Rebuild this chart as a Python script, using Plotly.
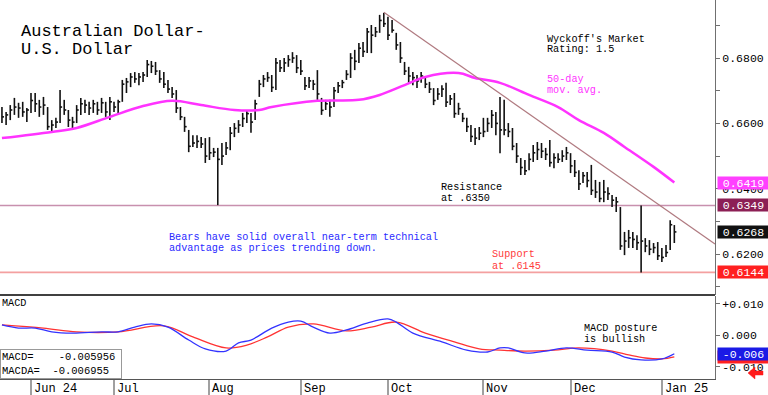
import pandas as pd
import plotly.graph_objects as go

# ---------------- data ----------------
dates = pd.bdate_range("2024-05-23", "2025-01-06")

high = [
    0.6650, 0.6635, 0.6656, 0.6678, 0.6663, 0.6666, 0.6647, 0.6693, 0.6693, 0.6672,
    0.6681, 0.6650, 0.6610, 0.6617, 0.6702, 0.6672, 0.6641, 0.6620, 0.6656, 0.6678,
    0.6672, 0.6666, 0.6672, 0.6666, 0.6678, 0.6666, 0.6681, 0.6666, 0.6672, 0.6733,
    0.6739, 0.6754, 0.6757, 0.6754, 0.6757, 0.6794, 0.6791, 0.6788, 0.6763, 0.6757,
    0.6733, 0.6711, 0.6702, 0.6650, 0.6620, 0.6580, 0.6564, 0.6564, 0.6558, 0.6555,
    0.6558, 0.6525, 0.6525, 0.6540, 0.6543, 0.6589, 0.6601, 0.6610, 0.6632, 0.6641,
    0.6632, 0.6672, 0.6733, 0.6748, 0.6757, 0.6748, 0.6800, 0.6794, 0.6800, 0.6809,
    0.6818, 0.6809, 0.6794, 0.6742, 0.6742, 0.6733, 0.6763, 0.6678, 0.6672, 0.6672,
    0.6711, 0.6727, 0.6733, 0.6763, 0.6815, 0.6825, 0.6846, 0.6849, 0.6892, 0.6901,
    0.6895, 0.6932, 0.6938, 0.6926, 0.6916, 0.6877, 0.6849, 0.6788, 0.6773, 0.6757,
    0.6748, 0.6757, 0.6742, 0.6727, 0.6708, 0.6708, 0.6717, 0.6724, 0.6687, 0.6693,
    0.6663, 0.6632, 0.6617, 0.6595, 0.6586, 0.6589, 0.6617, 0.6617, 0.6641, 0.6635,
    0.6681, 0.6672, 0.6601, 0.6586, 0.6540, 0.6494, 0.6488, 0.6509, 0.6534, 0.6543,
    0.6540, 0.6525, 0.6549, 0.6509, 0.6509, 0.6518, 0.6528, 0.6509, 0.6488, 0.6457,
    0.6451, 0.6451, 0.6473, 0.6427, 0.6421, 0.6427, 0.6405, 0.6381, 0.6375, 0.6344,
    0.6268, 0.6274, 0.6268, 0.6258, 0.6349, 0.6249, 0.6243, 0.6234, 0.6237, 0.6219,
    0.6228, 0.6304, 0.6289,
]
low = [
    0.6601, 0.6595, 0.6610, 0.6626, 0.6617, 0.6620, 0.6604, 0.6632, 0.6635, 0.6620,
    0.6626, 0.6580, 0.6574, 0.6586, 0.6601, 0.6626, 0.6589, 0.6580, 0.6601, 0.6626,
    0.6632, 0.6626, 0.6632, 0.6626, 0.6632, 0.6620, 0.6610, 0.6635, 0.6632, 0.6666,
    0.6693, 0.6711, 0.6724, 0.6717, 0.6727, 0.6742, 0.6754, 0.6748, 0.6724, 0.6708,
    0.6693, 0.6678, 0.6632, 0.6610, 0.6574, 0.6512, 0.6528, 0.6525, 0.6525, 0.6479,
    0.6488, 0.6497, 0.6350, 0.6473, 0.6503, 0.6518, 0.6558, 0.6571, 0.6589, 0.6601,
    0.6571, 0.6610, 0.6681, 0.6711, 0.6727, 0.6696, 0.6702, 0.6757, 0.6757, 0.6773,
    0.6785, 0.6754, 0.6748, 0.6702, 0.6708, 0.6702, 0.6672, 0.6626, 0.6641, 0.6620,
    0.6650, 0.6693, 0.6708, 0.6733, 0.6739, 0.6763, 0.6785, 0.6803, 0.6815, 0.6815,
    0.6864, 0.6877, 0.6895, 0.6855, 0.6877, 0.6825, 0.6785, 0.6748, 0.6724, 0.6717,
    0.6708, 0.6724, 0.6708, 0.6693, 0.6656, 0.6672, 0.6681, 0.6650, 0.6656, 0.6617,
    0.6626, 0.6604, 0.6574, 0.6543, 0.6534, 0.6549, 0.6558, 0.6574, 0.6586, 0.6564,
    0.6509, 0.6564, 0.6558, 0.6518, 0.6479, 0.6442, 0.6442, 0.6457, 0.6482, 0.6488,
    0.6494, 0.6488, 0.6467, 0.6463, 0.6479, 0.6482, 0.6488, 0.6448, 0.6436, 0.6396,
    0.6418, 0.6405, 0.6381, 0.6372, 0.6359, 0.6359, 0.6366, 0.6344, 0.6329, 0.6213,
    0.6197, 0.6219, 0.6219, 0.6213, 0.6144, 0.6206, 0.6197, 0.6203, 0.6182, 0.6176,
    0.6191, 0.6213, 0.6234,
]
close = [
    0.6620, 0.6626, 0.6641, 0.6650, 0.6647, 0.6635, 0.6641, 0.6670, 0.6660, 0.6650,
    0.6656, 0.6590, 0.6595, 0.6604, 0.6650, 0.6641, 0.6610, 0.6604, 0.6641, 0.6660,
    0.6656, 0.6647, 0.6660, 0.6641, 0.6663, 0.6635, 0.6666, 0.6650, 0.6666, 0.6720,
    0.6727, 0.6742, 0.6736, 0.6742, 0.6748, 0.6780, 0.6775, 0.6760, 0.6736, 0.6720,
    0.6705, 0.6690, 0.6647, 0.6620, 0.6590, 0.6530, 0.6540, 0.6545, 0.6537, 0.6500,
    0.6510, 0.6512, 0.6490, 0.6500, 0.6525, 0.6570, 0.6585, 0.6595, 0.6615, 0.6630,
    0.6604, 0.6660, 0.6720, 0.6736, 0.6740, 0.6710, 0.6785, 0.6770, 0.6785, 0.6795,
    0.6800, 0.6770, 0.6760, 0.6715, 0.6730, 0.6720, 0.6690, 0.6640, 0.6660, 0.6650,
    0.6700, 0.6715, 0.6725, 0.6750, 0.6800, 0.6790, 0.6830, 0.6820, 0.6880, 0.6870,
    0.6880, 0.6915, 0.6905, 0.6870, 0.6885, 0.6840, 0.6800, 0.6760, 0.6745, 0.6740,
    0.6730, 0.6745, 0.6720, 0.6705, 0.6670, 0.6690, 0.6705, 0.6665, 0.6675, 0.6630,
    0.6645, 0.6615, 0.6590, 0.6560, 0.6555, 0.6570, 0.6575, 0.6600, 0.6625, 0.6600,
    0.6580, 0.6580, 0.6575, 0.6530, 0.6500, 0.6465, 0.6455, 0.6490, 0.6510, 0.6520,
    0.6515, 0.6505, 0.6480, 0.6495, 0.6490, 0.6500, 0.6510, 0.6470, 0.6450, 0.6415,
    0.6440, 0.6425, 0.6395, 0.6390, 0.6370, 0.6390, 0.6385, 0.6365, 0.6360, 0.6225,
    0.6240, 0.6250, 0.6245, 0.6235, 0.6240, 0.6225, 0.6215, 0.6220, 0.6195, 0.6190,
    0.6205, 0.6290, 0.6268,
]

ma_day = [0, 12, 18, 26, 34, 41, 48, 56, 62, 65, 76, 86, 91, 97, 102, 110, 114, 120,
          127, 134, 139, 145, 150, 157, 162]
ma_val = [0.6555, 0.6574, 0.6586, 0.6620, 0.6653, 0.6669, 0.6656, 0.6641, 0.6641, 0.6650,
          0.6669, 0.6672, 0.6687, 0.6717, 0.6742, 0.6754, 0.6739, 0.6724, 0.6687, 0.6650,
          0.6610, 0.6571, 0.6528, 0.6467, 0.6419]

macd_day = [0, 4, 8, 12, 17, 24, 28, 32, 36, 40, 45, 49, 54, 57, 60, 65, 69, 72, 75, 79,
            83, 88, 93, 95, 99, 106, 112, 117, 120, 122, 126, 131, 136, 141, 147, 150, 154,
            159, 162]
macd_val = [0.0032, 0.0022, 0.0022, 0.0010, 0.0006, 0.0010, 0.0010, 0.0025, 0.0035, 0.0025,
            -0.0016, -0.0044, -0.0051, -0.0025, -0.0016, 0.0022, 0.0041, 0.0044, 0.0025, 0.0006,
            0.0016, 0.0038, 0.0051, 0.0041, 0.0006, -0.0022, -0.0048, -0.0054, -0.0041, -0.0041,
            -0.0057, -0.0051, -0.0041, -0.0048, -0.0054, -0.0070, -0.0079, -0.0076, -0.005956]
sig_day = [0, 10, 18, 28, 39, 46, 54, 59, 64, 69, 75, 83, 89, 95, 102, 109, 115, 120, 126,
           133, 139, 147, 151, 155, 159, 162]
sig_val = [0.0032, 0.0022, 0.0010, 0.0010, 0.0029, -0.0006, -0.0041, -0.0032, -0.0006, 0.0025,
           0.0035, 0.0013, 0.0025, 0.0041, 0.0006, -0.0022, -0.0044, -0.0048, -0.0051, -0.0048,
           -0.0041, -0.0051, -0.0063, -0.0073, -0.0076, -0.006955]

trend_day = [92, 171.8]
trend_val = [0.6940, 0.6231]
resistance = 0.6349
support = 0.6144
ma_last = 0.6419
last_close = 0.6268

month_labels = ["Jun 24", "Jul", "Aug", "Sep", "Oct", "Nov", "Dec", "Jan 25"]
price_ticks = [0.61, 0.62, 0.63, 0.64, 0.65, 0.66, 0.67, 0.68, 0.69]
price_ticktext = ["", "0.6200", "", "0.6400", "", "0.6600", "", "0.6800", ""]
macd_ticks = [-0.010, 0.0, 0.010]
macd_ticktext = ["-0.010", "0.000", "+0.010"]

# ---------------- figure ----------------
n = len(dates)
xi = list(range(n))
s = pd.Series(xi, index=dates)
firsts = s.groupby([dates.year, dates.month]).first().tolist()
month_ticks = firsts[1:]

W, H = 768, 395
PW, PH = 715, 379
MONO = "Liberation Mono"


def P(xp, yp):
    return xp / PW, 1 - yp / PH


bx, by, cx, cy = [], [], [], []
for i, (h, l, c) in enumerate(zip(high, low, close)):
    bx += [i, i, None]
    by += [l, h, None]
    cx += [i, i + 0.5, None]
    cy += [c, c, None]

fig = go.Figure()
fig.add_trace(go.Scatter(x=bx, y=by, mode="lines", line=dict(color="#111111", width=1.6),
                         yaxis="y", hoverinfo="skip", showlegend=False))
fig.add_trace(go.Scatter(x=cx, y=cy, mode="lines", line=dict(color="#111111", width=1.6),
                         yaxis="y", hoverinfo="skip", showlegend=False))
fig.add_trace(go.Scatter(x=ma_day, y=ma_val, mode="lines", line=dict(color="#ff33ff", width=2.5, shape="spline"),
                         yaxis="y", showlegend=False))
fig.add_trace(go.Scatter(x=trend_day, y=trend_val, mode="lines", line=dict(color="#b07a80", width=1.2),
                         yaxis="y", showlegend=False))
fig.add_trace(go.Scatter(x=sig_day, y=sig_val, mode="lines", line=dict(color="#ff3333", width=1.3, shape="spline"),
                         yaxis="y2", showlegend=False))
fig.add_trace(go.Scatter(x=macd_day, y=macd_val, mode="lines", line=dict(color="#3333ff", width=1.3, shape="spline"),
                         yaxis="y2", showlegend=False))

# red left arrow (bottom-right corner) as a path in paper coordinates
arrow_px = [(748, 373), (755, 367), (755, 371), (763, 371), (763, 375), (755, 375), (755, 379)]
arrow_path = "M " + " L ".join("%.5f,%.5f" % P(a, b) for a, b in arrow_px) + " Z"

shapes = [
    dict(type="line", xref="paper", x0=0, x1=1, yref="y", y0=resistance, y1=resistance,
         line=dict(color="#c890ae", width=1.5), layer="below"),
    dict(type="line", xref="paper", x0=0, x1=1, yref="y", y0=support, y1=support,
         line=dict(color="#f4a0a0", width=1.8), layer="below"),
    dict(type="line", xref="paper", x0=0, x1=1, yref="paper", y0=1 - 295 / PH, y1=1 - 295 / PH,
         line=dict(color="#000000", width=1.5)),
    dict(type="path", xref="paper", yref="paper", path=arrow_path, fillcolor="#ff1a1a",
         line=dict(color="#ff1a1a", width=0.5)),
]

ann = []


def text(xp, yp, t, size=10.2, color="#000000", family=MONO):
    x, y = P(xp, yp)
    ann.append(dict(xref="paper", yref="paper", x=x, y=y, text=t, showarrow=False,
                    xanchor="left", yanchor="middle", font=dict(family=family, size=size, color=color)))


text(19, 31, "Australian Dollar-", size=17)
text(19, 50, "U.S. Dollar", size=17)
text(545, 39, "Wyckoff's Market")
text(545, 50, "Rating: 1.5")
text(545, 80, "50-day", color="#ff33ff")
text(545, 91, "mov. avg.", color="#ff33ff")
text(439, 187, "Resistance")
text(439, 198, "at .6350")
text(167, 237, "Bears have solid overall near-term technical", color="#2a2aff")
text(167, 248, "advantage as prices trending down.", color="#2a2aff")
text(490, 254, "Support", color="#ff3b3b")
text(490, 266, "at .6145", color="#ff3b3b")
text(582, 328, "MACD posture")
text(582, 339, "is bullish")
text(0, 303, "MACD")

# MACD value box
x0, y0 = P(0, 379)
ann.append(dict(xref="paper", yref="paper", x=x0, y=y0, xanchor="left", yanchor="bottom",
                text="MACD=    -0.005956<br>MACDA=  -0.006955", align="left", showarrow=False,
                bgcolor="#ffffff", bordercolor="#999999", borderwidth=1, borderpad=1,
                width=118, font=dict(family=MONO, size=10.5, color="#000000")))

# month labels
for t, lab in zip(month_ticks, month_labels):
    ann.append(dict(xref="x", yref="paper", x=t, y=0, xanchor="left", yanchor="top", xshift=1,
                    yshift=-1, text=lab, showarrow=False, font=dict(family=MONO, size=12, color="#000000")))


def box(val, t, bg, yref="y"):
    ann.append(dict(xref="paper", x=1, xanchor="left", xshift=2, yref=yref, y=val, yanchor="middle",
                    text=t, showarrow=False, bgcolor=bg, borderpad=0, width=51, height=12,
                    font=dict(family=MONO, size=11.5, color="#ffffff")))


box(ma_last, "0.6419", "#ff40ff")
box(resistance, "0.6349", "#8c1f55")
box(last_close, "0.6268", "#111111")
box(support, "0.6144", "#ff2020")
box(sig_val[-1], "", "#ff2020", "y2")
box(macd_val[-1], "-0.006", "#1a1ae6", "y2")

fig.update_layout(
    width=W, height=H, margin=dict(l=0, r=W - PW, t=0, b=H - PH),
    paper_bgcolor="#ffffff", plot_bgcolor="#ffffff", showlegend=False,
    shapes=shapes, annotations=ann,
    xaxis=dict(domain=[0, 1], range=[-0.47, 171.8], anchor="y2", showgrid=False, zeroline=False,
               showline=True, linecolor="#555555", linewidth=1, ticks="outside", ticklen=16,
               tickwidth=2, tickcolor="#a0a0a0", tickvals=month_ticks, showticklabels=False),
    yaxis=dict(domain=[1 - 295 / PH, 1], range=[0.6075, 0.69775], side="right", anchor="x",
               showgrid=False, zeroline=False, showline=True, linecolor="#707070", linewidth=1,
               ticks="outside", ticklen=4, tickcolor="#707070", tickvals=price_ticks,
               ticktext=price_ticktext, tickfont=dict(family=MONO, size=11.5, color="#000000")),
    yaxis2=dict(domain=[0, 1 - 296 / PH], range=[-0.01397, 0.01238], side="right", anchor="x",
                showgrid=False, zeroline=False, showline=True, linecolor="#707070", linewidth=1,
                ticks="outside", ticklen=4, tickcolor="#707070", tickvals=macd_ticks,
                ticktext=macd_ticktext, tickfont=dict(family=MONO, size=11.5, color="#000000")),
)

fig.write_html("out.html", config={"displayModeBar": False},
               post_script="document.body.style.margin='0';document.body.style.overflow='hidden';")
